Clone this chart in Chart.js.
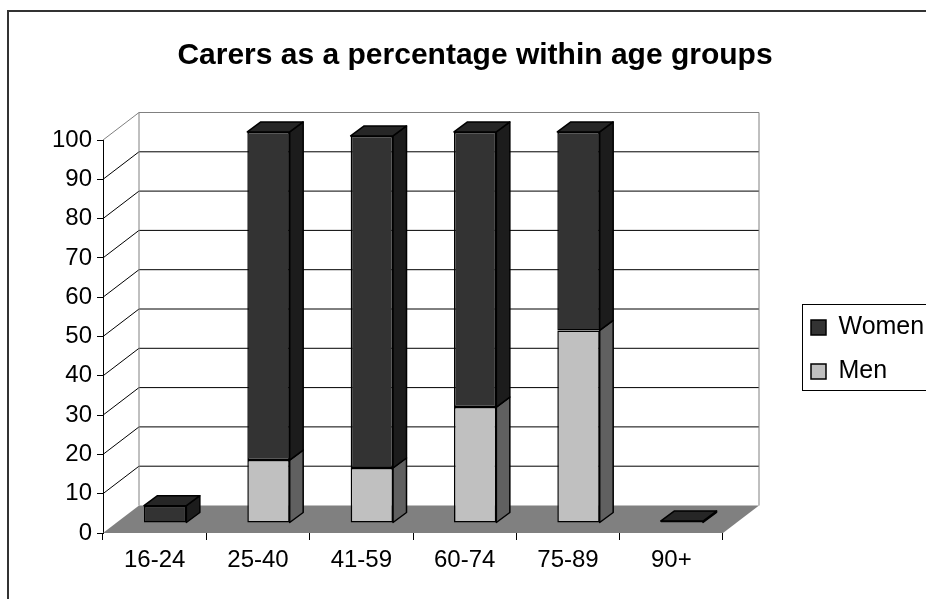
<!DOCTYPE html>
<html>
<head>
<meta charset="utf-8">
<title>Carers as a percentage within age groups</title>
<script src="https://cdn.jsdelivr.net/npm/chart.js@4.4.1/dist/chart.umd.min.js"></script>
<style>
  html, body { margin: 0; padding: 0; background: #fff; }
  canvas { display: block; }
</style>
</head>
<body>
<canvas id="chart" width="926" height="599"></canvas>
<script>
// values (percent)
const ageGroups = ['16-24', '25-40', '41-59', '60-74', '75-89', '90+'];
const menValues = [0, 16, 14, 29.5, 49, 0];
const womenValues = [4.4, 83.5, 84.5, 70, 50.5, 0.5];
const yMin = 0;
const yMax = 100;
const yStep = 10;

// fake 3D look like the old Excel chart
const WALL = { dx: 36, dy: -27.5 };       // depth of the back wall
const BAR_SHIFT = { dx: 10.5, dy: -10 };  // bars stand in the middle of the floor
const BAR_DEPTH = { dx: 13.5, dy: -10 };
const sideColors = ['#606060', '#1c1c1c'];
const topColors = ['#909090', '#262626'];

Chart.defaults.font.family = '"Liberation Sans", Arial, sans-serif';
Chart.defaults.color = '#000';

const threeD = {
    id: 'threeD',
    beforeDraw(chart) {
        const ctx = chart.ctx;
        ctx.save();
        ctx.fillStyle = '#fff';
        ctx.fillRect(0, 0, chart.width, chart.height);
        ctx.strokeStyle = '#333';
        ctx.lineWidth = 2;
        ctx.strokeRect(8, 11, chart.width + 40, chart.height + 40); // frame runs off the picture
        ctx.restore();
    },
    beforeDatasetsDraw(chart) {
        const { ctx, chartArea: a, scales: { y } } = chart;
        const y0 = y.getPixelForValue(y.min);
        const y1 = y.getPixelForValue(y.max);
        ctx.save();
        ctx.lineWidth = 1;
        ctx.strokeStyle = '#000';
        y.ticks.forEach(t => {
            if (t.value === y.min || t.value === y.max) return;
            const py = y.getPixelForValue(t.value);
            ctx.beginPath();
            ctx.moveTo(a.left, py);
            ctx.lineTo(a.left + WALL.dx, py + WALL.dy);
            ctx.lineTo(a.right + WALL.dx, py + WALL.dy);
            ctx.stroke();
        });
        // wall edges
        ctx.strokeStyle = '#808080';
        ctx.beginPath();
        ctx.moveTo(a.left, y1);
        ctx.lineTo(a.left + WALL.dx, y1 + WALL.dy);
        ctx.lineTo(a.right + WALL.dx, y1 + WALL.dy);
        ctx.lineTo(a.right + WALL.dx, y0 + WALL.dy);
        ctx.moveTo(a.left + WALL.dx, y1 + WALL.dy);
        ctx.lineTo(a.left + WALL.dx, y0 + WALL.dy);
        ctx.stroke();
        // floor
        ctx.fillStyle = '#808080';
        ctx.beginPath();
        ctx.moveTo(a.left, y0);
        ctx.lineTo(a.right, y0);
        ctx.lineTo(a.right + WALL.dx, y0 + WALL.dy);
        ctx.lineTo(a.left + WALL.dx, y0 + WALL.dy);
        ctx.closePath();
        ctx.fill();
        ctx.restore();

        ctx.save();
        ctx.translate(BAR_SHIFT.dx, BAR_SHIFT.dy);
    },
    afterDatasetsDraw(chart) {
        const ctx = chart.ctx;
        const last = chart.data.datasets.length - 1;
        ctx.lineWidth = 1.5;
        ctx.strokeStyle = '#000';
        ctx.lineJoin = 'round';
        chart.data.datasets.forEach((ds, i) => {
            chart.getDatasetMeta(i).data.forEach(bar => {
                const { x, y, base, width } = bar.getProps(['x', 'y', 'base', 'width'], true);
                const l = x - width / 2, r = x + width / 2;
                const top = Math.min(y, base), bot = Math.max(y, base);
                if (bot - top > 0.5) {
                    ctx.fillStyle = sideColors[i];
                    ctx.beginPath();
                    ctx.moveTo(r, bot);
                    ctx.lineTo(r + BAR_DEPTH.dx, bot + BAR_DEPTH.dy);
                    ctx.lineTo(r + BAR_DEPTH.dx, top + BAR_DEPTH.dy);
                    ctx.lineTo(r, top);
                    ctx.closePath();
                    ctx.fill();
                    ctx.stroke();
                }
                if (i === last) {
                    ctx.fillStyle = topColors[i];
                    ctx.beginPath();
                    ctx.moveTo(l, top);
                    ctx.lineTo(l + BAR_DEPTH.dx, top + BAR_DEPTH.dy);
                    ctx.lineTo(r + BAR_DEPTH.dx, top + BAR_DEPTH.dy);
                    ctx.lineTo(r, top);
                    ctx.closePath();
                    ctx.fill();
                    ctx.stroke();
                }
            });
        });
        ctx.restore();
    },
    afterDraw(chart) {
        // box round the legend
        const { ctx, legend } = chart;
        const hb = legend.legendHitBoxes;
        if (!hb || !hb.length) return;
        const top = Math.round(hb[0].top - 11) + 0.5;
        const lastBox = hb[hb.length - 1];
        const bottom = Math.round(lastBox.top + lastBox.height + 6) + 0.5;
        ctx.save();
        ctx.strokeStyle = '#000';
        ctx.lineWidth = 1;
        ctx.strokeRect(Math.round(legend.left + 10) + 0.5, top, legend.width + 20, bottom - top);
        ctx.restore();
    }
};

const ctx = document.getElementById('chart');

new Chart(ctx, {
    type: 'bar',
    data: {
        labels: ageGroups,
        datasets: [
            {
                label: 'Men',
                data: menValues,
                backgroundColor: '#c0c0c0',
                borderColor: '#000',
                borderWidth: 1.5,
                borderSkipped: false
            },
            {
                label: 'Women',
                data: womenValues,
                backgroundColor: '#333333',
                borderColor: '#000',
                borderWidth: 1.5,
                borderSkipped: false
            }
        ]
    },
    options: {
        responsive: false,
        animation: false,
        clip: false,
        barPercentage: 0.41,
        categoryPercentage: 1,
        layout: { padding: { left: 24, right: 0, top: 0, bottom: 0 } },
        plugins: {
            title: {
                display: true,
                text: 'Carers as a percentage within age groups',
                font: { size: 30, weight: 'bold', lineHeight: 1 },
                padding: { top: 41, bottom: 69 }
            },
            legend: {
                position: 'right',
                fullSize: false,
                reverse: true,
                maxWidth: 134,
                title: { display: true, text: ' ', font: { size: 26, lineHeight: 1 }, padding: 0 },
                labels: {
                    boxWidth: 15,
                    boxHeight: 15,
                    padding: 19,
                    font: { size: 25 }
                }
            },
            tooltip: { enabled: false }
        },
        scales: {
            x: {
                stacked: true,
                grid: { drawOnChartArea: false, tickLength: 7, color: '#000', offset: true },
                border: { display: false },
                ticks: { font: { size: 24 }, padding: 6, maxRotation: 0 },
                afterFit(s) { s.height = 66; }
            },
            y: {
                stacked: true,
                min: yMin,
                max: yMax,
                ticks: { stepSize: yStep, font: { size: 24 }, padding: 5 },
                grid: { drawOnChartArea: false, tickLength: 6, color: '#000' },
                border: { display: true, color: '#000', width: 1 },
                afterFit(s) { s.width = 79; }
            },
            y2: {
                position: 'right',
                grid: { display: false },
                ticks: { display: false },
                border: { display: false },
                afterFit(s) { s.width = 69; }
            }
        }
    },
    plugins: [threeD]
});
</script>
</body>
</html>
